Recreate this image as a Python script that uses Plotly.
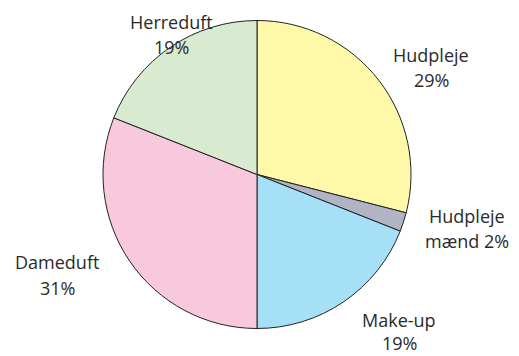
import plotly.graph_objects as go

categories = ["Hudpleje", "Hudpleje mænd", "Make-up", "Dameduft", "Herreduft"]
values = [29, 2, 19, 31, 19]
colors = ["#FFF8A8", "#B0B4C4", "#A6E0F7", "#F8C8DC", "#D8EBD0"]
# label line layout: "Hudpleje mænd" wraps before "mænd"
label_lines = [("Hudpleje", "{v}%"), ("Hudpleje", "mænd {v}%"), ("Make-up", "{v}%"),
               ("Dameduft", "{v}%"), ("Herreduft", "{v}%")]
# (center x, first line y, second line y) in pixels
label_pos = [(431, 55, 80), (467, 216, 241), (399, 320, 343),
             (57, 262, 288), (171, 22, 47)]

W, H = 519, 356
cx, cy, r = 257, 174.5, 154

fig = go.Figure(go.Pie(
    labels=categories,
    values=values,
    sort=False,
    direction="clockwise",
    rotation=0,
    textinfo="none",
    hoverinfo="label+percent",
    marker=dict(colors=colors, line=dict(color="#222222", width=1)),
    domain=dict(x=[(cx - r) / W, (cx + r) / W],
                y=[(H - cy - r) / H, (H - cy + r) / H]),
))

for (l1, l2), v, (x, y1, y2) in zip(label_lines, values, label_pos):
    for txt, y in ((l1, y1), (l2.format(v=v), y2)):
        fig.add_annotation(
            text=txt, x=x / W, y=1 - y / H, xref="paper", yref="paper",
            xanchor="center", yanchor="middle", showarrow=False, align="center",
            font=dict(family="Open Sans", size=18, color="#2a2a2a"),
        )

fig.update_layout(
    width=W, height=H, margin=dict(l=0, r=0, t=0, b=0),
    paper_bgcolor="white", plot_bgcolor="white", showlegend=False,
)
fig.write_html("out.html")
